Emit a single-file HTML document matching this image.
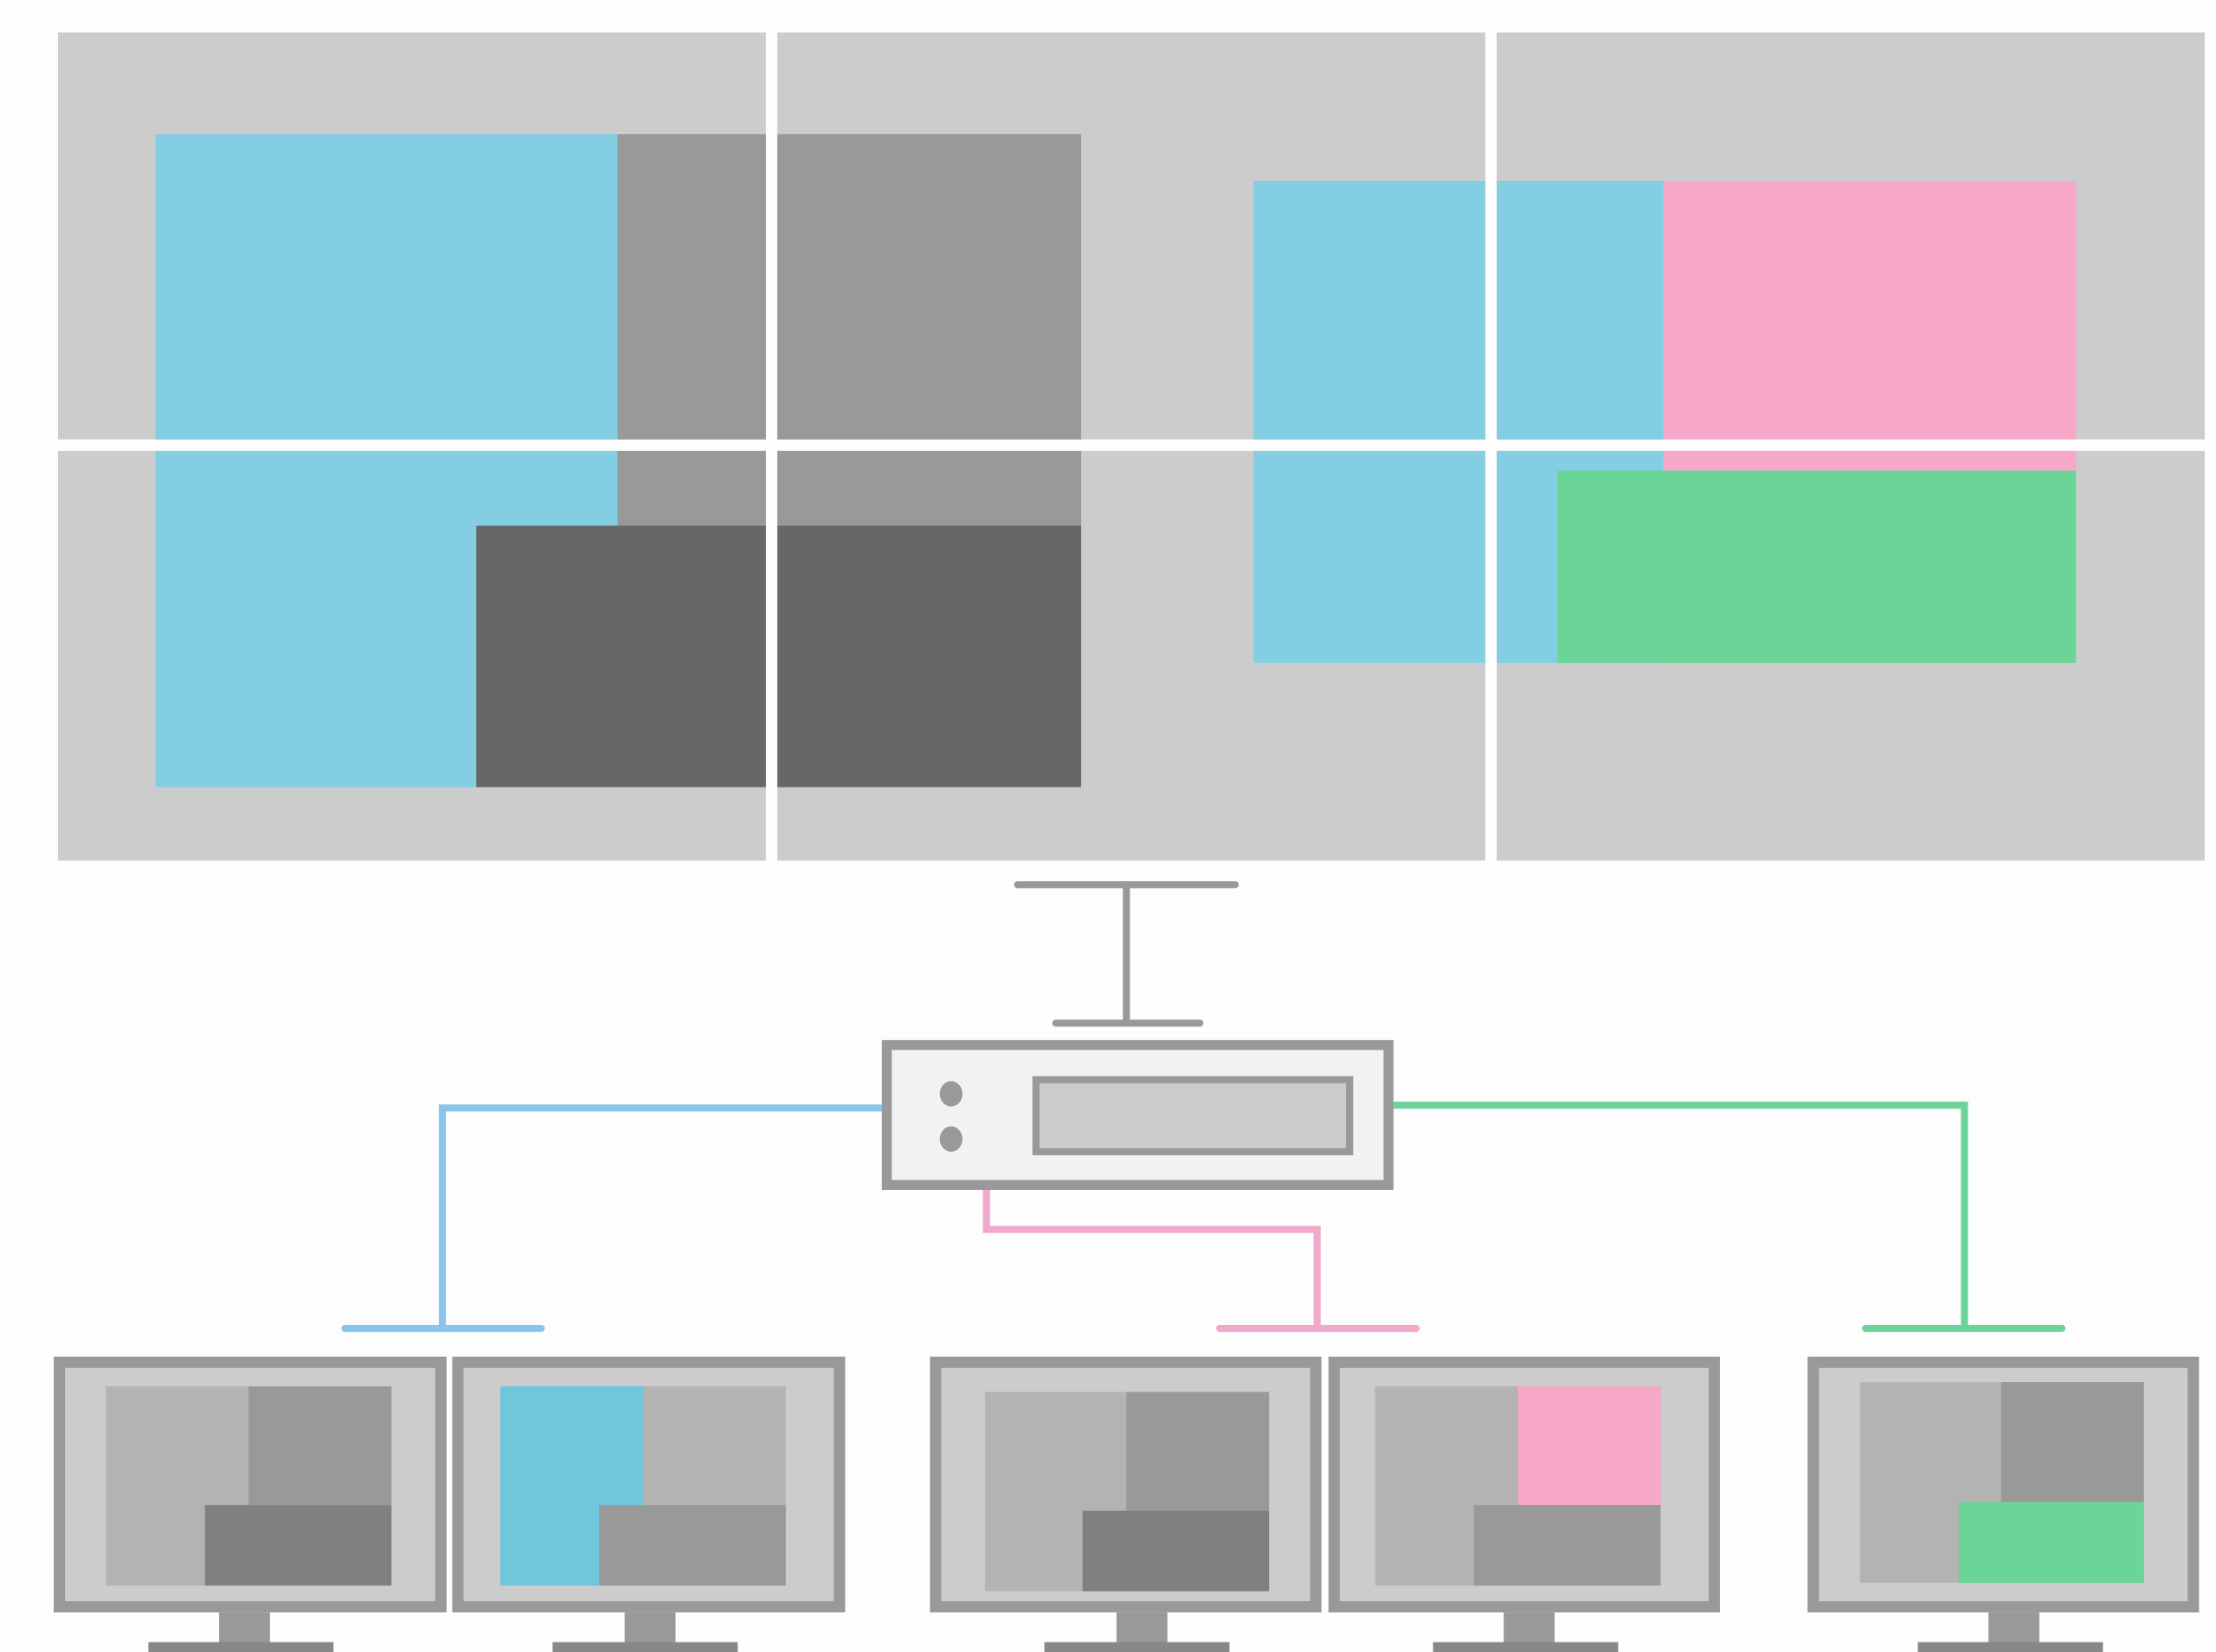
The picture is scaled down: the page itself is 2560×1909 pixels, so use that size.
<!DOCTYPE html>
<html><head><meta charset="utf-8"><style>
html,body{margin:0;padding:0;background:#fdfdfd;}
svg{display:block;}
</style></head><body>
<svg width="2560" height="1909" viewBox="0 0 1568 1169" preserveAspectRatio="none" xmlns="http://www.w3.org/2000/svg">
<rect width="1568" height="1169" fill="#fdfdfd"/>
<!-- video wall -->
<g fill="#cccccc">
<rect x="41" y="23" width="501" height="288"/><rect x="550" y="23" width="501" height="288"/><rect x="1059" y="23" width="501" height="288"/>
<rect x="41" y="319" width="501" height="290"/><rect x="550" y="319" width="501" height="290"/><rect x="1059" y="319" width="501" height="290"/>
</g>
<g>
<rect x="110" y="95" width="327" height="462" fill="#83cee2"/>
<rect x="437" y="95" width="328" height="277" fill="#999999"/>
<rect x="337" y="372" width="428" height="185" fill="#676767"/>
<rect x="887" y="128" width="290" height="341" fill="#83cee2"/>
<rect x="1177" y="128" width="292" height="205" fill="#f7a7c7"/>
<rect x="1102" y="333" width="367" height="136" fill="#6bd597"/>
</g>
<!-- gaps -->
<rect x="542" y="0" width="8" height="612" fill="#fdfdfd"/>
<rect x="1051" y="0" width="8" height="612" fill="#fdfdfd"/>
<rect x="0" y="311" width="1568" height="8" fill="#fdfdfd"/>
<!-- gray T -->
<g stroke="#999" stroke-width="5" stroke-linecap="round" fill="none">
<line x1="720" y1="626" x2="874" y2="626"/>
<line x1="797" y1="626" x2="797" y2="724"/>
<line x1="747" y1="724" x2="849" y2="724"/>
</g>
<!-- connectors -->
<g fill="none" stroke-width="5">
<polyline points="624,784 313,784 313,940" stroke="#88c5ec"/>
<polyline points="698,842 698,870 932,870 932,940" stroke="#f0a8cb"/>
<polyline points="986,782 1390,782 1390,940" stroke="#6cd39a"/>
</g>
<g stroke-width="5" stroke-linecap="round">
<line x1="244" y1="940" x2="383" y2="940" stroke="#88c5ec"/>
<line x1="863" y1="940" x2="1002" y2="940" stroke="#f0a8cb"/>
<line x1="1320" y1="940" x2="1459" y2="940" stroke="#6cd39a"/>
</g>
<!-- device -->
<rect x="627.5" y="739.5" width="355" height="99" fill="#f2f2f2" stroke="#999" stroke-width="7"/>
<rect x="733" y="764" width="222" height="51" fill="#cccccc" stroke="#999" stroke-width="5"/>
<ellipse cx="673" cy="774" rx="8" ry="9" fill="#999"/>
<ellipse cx="673" cy="806" rx="8" ry="9" fill="#999"/>
<!-- monitors -->
<g fill="#999">
<rect x="155" y="1141" width="36" height="22"/><rect x="105" y="1162" width="131" height="8" fill="#888"/>
<rect x="442" y="1141" width="36" height="22"/><rect x="391" y="1162" width="131" height="8" fill="#888"/>
<rect x="790" y="1141" width="36" height="22"/><rect x="739" y="1162" width="131" height="8" fill="#888"/>
<rect x="1064" y="1141" width="36" height="22"/><rect x="1014" y="1162" width="131" height="8" fill="#888"/>
<rect x="1407" y="1141" width="36" height="22"/><rect x="1357" y="1162" width="131" height="8" fill="#888"/>
</g>
<g fill="#cccccc" stroke="#999" stroke-width="8">
<rect x="42" y="964" width="270" height="173"/>
<rect x="324" y="964" width="270" height="173"/>
<rect x="662" y="964" width="269" height="173"/>
<rect x="944" y="964" width="269" height="173"/>
<rect x="1283" y="964" width="269" height="173"/>
</g>
<!-- m1 -->
<rect x="75" y="981" width="202" height="141" fill="#b3b3b3"/>
<rect x="176" y="981" width="101" height="84" fill="#999"/>
<rect x="145" y="1065" width="132" height="57" fill="#808080"/>
<!-- m2 -->
<rect x="354" y="981" width="202" height="141" fill="#b3b3b3"/>
<rect x="354" y="981" width="101" height="141" fill="#70c6dd"/>
<rect x="424" y="1065" width="132" height="57" fill="#999"/>
<!-- m3 -->
<rect x="697" y="985" width="201" height="141" fill="#b3b3b3"/>
<rect x="797" y="985" width="101" height="84" fill="#999"/>
<rect x="766" y="1069" width="132" height="57" fill="#808080"/>
<!-- m4 -->
<rect x="973" y="981" width="202" height="141" fill="#b3b3b3"/>
<rect x="1074" y="981" width="101" height="84" fill="#f7a7c7"/>
<rect x="1043" y="1065" width="132" height="57" fill="#999"/>
<!-- m5 -->
<rect x="1316" y="978" width="201" height="142" fill="#b3b3b3"/>
<rect x="1416" y="978" width="101" height="85" fill="#999"/>
<rect x="1386" y="1063" width="131" height="57" fill="#6bd597"/>
</svg>
</body></html>
